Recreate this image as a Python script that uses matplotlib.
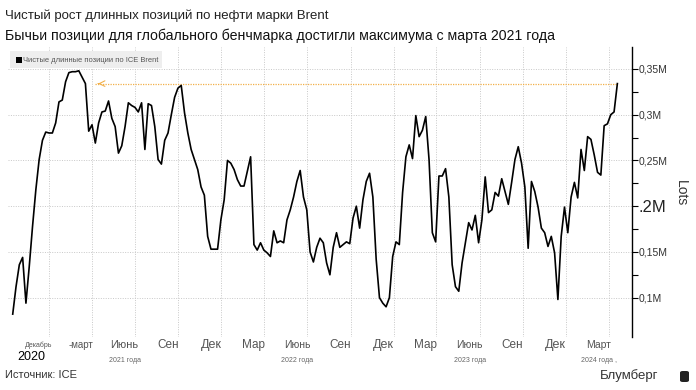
import matplotlib
matplotlib.use("Agg")
import matplotlib.pyplot as plt
import matplotlib.transforms as mtransforms
from matplotlib.patches import FancyBboxPatch, Rectangle
import pandas as pd

# net long positions, thousands of lots, weekly
net_long = [
    82, 112, 136, 144, 94, 134, 178, 218, 251, 272, 281, 280, 280, 291, 314,
    316, 336, 346, 347, 347, 348, 341, 334, 282, 289, 269, 291, 303, 304, 315,
    296, 287, 258, 266, 287, 313, 310, 308, 303, 313, 262, 312, 310, 287, 251,
    246, 272, 280, 300, 319, 329, 332, 302, 280, 262, 251, 240, 221, 212, 167,
    153, 153, 153, 185, 207, 250, 247, 240, 229, 222, 222, 238, 254, 158, 152,
    160, 152, 149, 145, 173, 160, 162, 160, 185, 196, 210, 227, 239, 210, 196,
    150,
    139, 155, 165, 160, 138, 125, 155, 171, 155, 158, 161, 159, 187, 200, 176,
    207, 227, 236, 210, 142, 100, 94, 90, 100, 145, 161, 158, 215, 254, 267,
    252, 299, 276, 283, 298, 251, 171, 161, 233, 233, 241, 210, 136, 112, 107,
    138, 160, 182, 174, 190, 160, 185, 232, 193, 196, 215, 211, 230, 216, 202,
    226, 251, 265, 247, 221, 154, 227, 216, 199, 176, 171, 156, 167, 149, 98,
    167, 199, 171, 210, 226, 209, 262, 239, 276, 273, 256, 237, 234, 288, 290,
    300, 303, 334,
]
last_date = "2024-03-19"
since_date = "2021-03-09"

y_ticks = [100, 150, 200, 250, 300, 350]
y_labels = ["0,1M", "0,15M", ".2M", "0,25M", "0,3M", "0,35M"]

grid_months = pd.date_range("2020-12-01", "2024-03-01", freq="3MS")
month_names = ["Декабрь", "-март", "Июнь", "Сен", "Дек", "Мар", "Июнь", "Сен",
               "Дек", "Мар", "Июнь", "Сен", "Дек", "Март"]
month_sizes = [5, 7, 8, 8.5, 9, 8.5, 7.5, 8.5, 9, 8.5, 7.5, 8.5, 9, 7.5]
year_labels = {"2021-06-01": "2021 года", "2022-06-01": "2022 года",
               "2023-06-01": "2023 года", "2024-03-01": "2024 года ,"}

dates = pd.date_range(end=last_date, periods=len(net_long), freq="7D")

plt.rcParams["font.family"] = ["Liberation Sans", "DejaVu Sans"]

fig = plt.figure(figsize=(6.96, 3.9), dpi=100)
ax = fig.add_axes([8 / 696, 53 / 390, 624 / 696, 290 / 390])

ax.set_xlim(pd.Timestamp("2020-09-05"), pd.Timestamp("2024-04-19"))
ax.set_ylim(57, 374)

for d in grid_months:
    ax.axvline(d, color="#c8c8c8", lw=0.7, ls=(0, (1, 1.5)), zorder=0)
for v in y_ticks:
    ax.axhline(v, color="#c8c8c8", lw=0.7, ls=(0, (1, 1.5)), zorder=0)

ax.plot(dates, net_long, color="black", lw=1.2, zorder=3)

# dotted reference line back to March 2021
top = net_long[-1]
ax.hlines(top, pd.Timestamp(since_date), dates[-1], color="#f2b04a", lw=0.9,
          ls=(0, (1, 1)), zorder=2)
ax.annotate("", xy=(pd.Timestamp(since_date), top),
            xytext=(pd.Timestamp(since_date) + pd.Timedelta(days=12), top),
            arrowprops=dict(arrowstyle="->", color="#f2b04a", lw=0.8))

for side in ["left", "top", "bottom"]:
    ax.spines[side].set_visible(False)
ax.spines["right"].set_linewidth(1.0)
ax.set_xticks([])
ax.yaxis.tick_right()
ax.set_yticks(y_ticks)
ax.set_yticklabels(y_labels)
ax.set_yticks([125, 175, 225, 275, 325], minor=True)
ax.tick_params(axis="y", which="both", direction="out", length=4, width=0.8,
               pad=1, labelsize=7.5, labelcolor="#333333")
for lbl in ax.get_yticklabels():
    if lbl.get_text() == ".2M":
        lbl.set_fontsize(12)
        lbl.set_color("#222222")

fig.text(681 / 696, 1 - 193 / 390, "Lots", rotation=270, ha="center",
         va="center", fontsize=10, color="#333333")

# legend box
fig.patches.append(Rectangle((10 / 696, 1 - 68 / 390), 152 / 696, 17 / 390,
                             transform=fig.transFigure, facecolor="#eeeeee",
                             edgecolor="none", zorder=4))
fig.patches.append(Rectangle((16 / 696, 1 - 63 / 390), 6 / 696, 6 / 390,
                             transform=fig.transFigure, facecolor="black",
                             edgecolor="none", zorder=5))
fig.text(23 / 696, 1 - 60 / 390, "Чистые длинные позиции по ICE Brent",
         fontsize=5.4, color="#555555", va="center", zorder=5)

# month and year labels under the plot
trans = mtransforms.blended_transform_factory(ax.transData, fig.transFigure)
for d, name, size in zip(grid_months, month_names, month_sizes):
    ax.text(d - pd.Timedelta(days=22), 1 - 345 / 390, name, transform=trans,
            ha="center", va="center", fontsize=size, color="#555555")
for d, name in year_labels.items():
    ax.text(pd.Timestamp(d) - pd.Timedelta(days=21), 1 - 360 / 390, name,
            transform=trans, ha="center", va="center", fontsize=5,
            color="#666666")

fig.text(17 / 696, 1 - 357 / 390, "2020", fontsize=9, color="black",
         va="center")
fig.text(5 / 696, 1 - 375 / 390, "Источник: ICE", fontsize=8,
         color="#333333", va="center")
fig.text(600 / 696, 1 - 376 / 390, "Блумберг", fontsize=9.5,
         color="#333333", va="center")
fig.patches.append(FancyBboxPatch((680 / 696, 1 - 382 / 390), 9 / 696, 11 / 390,
                                  boxstyle="round,pad=0,rounding_size=0.004",
                                  transform=fig.transFigure, facecolor="#222222",
                                  edgecolor="none"))

fig.text(5 / 696, 1 - 16 / 390, "Чистый рост длинных позиций по нефти марки Brent",
         fontsize=9.5, color="#222222", va="center")
fig.text(5 / 696, 1 - 36 / 390,
         "Бычьи позиции для глобального бенчмарка достигли максимума с марта 2021 года",
         fontsize=10.2, color="#111111", va="center")

fig.savefig("out.png", dpi=100)
